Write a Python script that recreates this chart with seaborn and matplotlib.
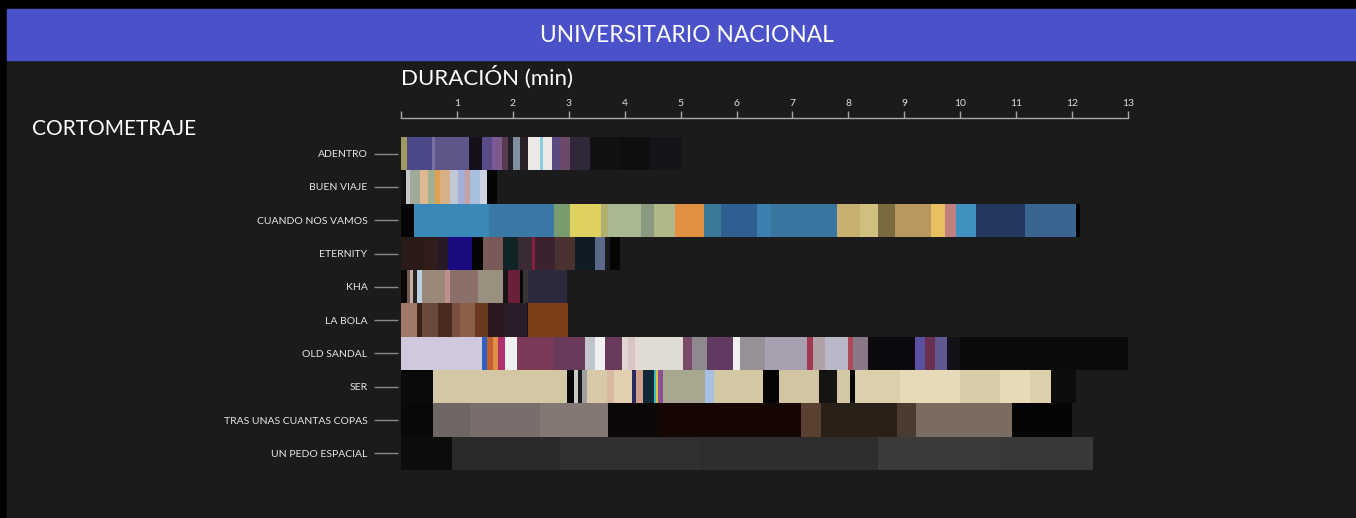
import pandas as pd
import matplotlib.pyplot as plt
import seaborn as sns
from matplotlib.patches import Rectangle

# Films (top to bottom) and their colour barcodes:
# each segment ends at the given minute and has the given colour
films = ['ADENTRO', 'BUEN VIAJE', 'CUANDO NOS VAMOS', 'ETERNITY', 'KHA',
         'LA BOLA', 'OLD SANDAL', 'SER', 'TRAS UNAS CUANTAS COPAS', 'UN PEDO ESPACIAL']

adentro_ends = [0.11, 0.55, 0.61, 1.22, 1.45, 1.63, 1.81, 1.91, 2.00, 2.13, 2.27,
                2.49, 2.54, 2.70, 2.84, 3.02, 3.38, 3.92, 4.45, 5.0]
adentro_colors = ['#a09a60', '#4a4a8a', '#7a70a0', '#5c5788', '#15101c', '#5a4a8a',
                  '#7a5a90', '#5a3a50', '#202028', '#8090a0', '#2a2028', '#ece8e6',
                  '#8ccfe0', '#ece8e6', '#5a4a80', '#6a4a68', '#302838', '#111113',
                  '#0e0e10', '#151519']

buen_viaje_ends = [0.09, 0.16, 0.34, 0.48, 0.61, 0.70, 0.88, 1.02, 1.14, 1.23, 1.41, 1.54, 1.72]
buen_viaje_colors = ['#101010', '#c8c8c8', '#a0aa98', '#e0b890', '#a0b090', '#e0a050',
                     '#d8b088', '#c0c8d8', '#a0b0d8', '#c8a0a0', '#a8c0e0', '#d0d4e0', '#050505']

cuando_ends = [0.23, 1.57, 2.74, 3.02, 3.58, 3.70, 4.29, 4.52, 4.90, 5.42, 5.72, 6.37,
               6.62, 7.80, 8.21, 8.53, 8.83, 9.48, 9.73, 9.92, 10.28, 11.16, 12.07, 12.14]
cuando_colors = ['#050505', '#3a88b8', '#3a78a5', '#7a9a70', '#e0d060', '#b0b070',
                 '#a8b890', '#8a9a80', '#b0b888', '#e09040', '#3a7a98', '#2f5f90',
                 '#3a80b0', '#3a75a0', '#c8b070', '#d0c080', '#7a6a40', '#b89860',
                 '#e8c060', '#c08080', '#4090c0', '#24385f', '#3a6590', '#000000']

eternity_ends = [0.43, 0.66, 0.84, 1.27, 1.47, 1.82, 2.09, 2.34, 2.40, 2.75, 3.11,
                 3.47, 3.65, 3.74, 3.92]
eternity_colors = ['#2a1a18', '#301c18', '#281828', '#1a0a80', '#050505', '#7a5a58',
                   '#102428', '#3a2a34', '#8a2040', '#3a2230', '#4a3230', '#101c24',
                   '#5a6a88', '#1a1a22', '#050505']

kha_ends = [0.11, 0.16, 0.21, 0.29, 0.38, 0.79, 0.88, 1.38, 1.82, 1.91, 2.13, 2.18, 2.27, 2.97]
kha_colors = ['#080808', '#7a5a50', '#c0b0a8', '#2a2020', '#b8d0e0', '#9a8878',
              '#c09090', '#8a7068', '#9a9080', '#1a1414', '#6a2038', '#080808',
              '#3a3438', '#2c2a3c']

la_bola_ends = [0.29, 0.38, 0.66, 0.91, 1.06, 1.32, 1.56, 1.86, 2.25, 2.27, 2.99]
la_bola_colors = ['#a07868', '#3a2218', '#6a4a3a', '#4a2a1e', '#7a5040', '#8a6048',
                  '#6a3a20', '#2a1a20', '#2a1c28', '#101010', '#7a3e18']

old_sandal_ends = [1.45, 1.54, 1.65, 1.73, 1.86, 2.07, 2.72, 3.29, 3.47, 3.65, 3.95,
                   4.06, 4.18, 5.04, 5.20, 5.47, 5.94, 6.06, 6.51, 7.26, 7.37, 7.58,
                   7.99, 8.08, 8.35, 9.19, 9.37, 9.55, 9.76, 10.00, 13.03]
old_sandal_colors = ['#d0c8dc', '#3060c0', '#c06030', '#e09040', '#b03070', '#f0f0f0',
                     '#7a3a58', '#6a3a5a', '#c0c4cc', '#f0f0f0', '#6a3a5c', '#e0d8d0',
                     '#d8c4c0', '#e0dcd4', '#7a4a6a', '#908890', '#603a60', '#f0f0f0',
                     '#989098', '#a8a0b0', '#a03850', '#b0a0a8', '#b8b8c8', '#b04858',
                     '#8a7888', '#0c0a0e', '#5a50a0', '#6a3050', '#605890', '#141018',
                     '#0a0a0c']

ser_ends = [0.57, 2.97, 3.09, 3.17, 3.24, 3.33, 3.68, 3.81, 4.13, 4.20, 4.33, 4.52,
            4.56, 4.60, 4.69, 5.44, 5.60, 6.47, 6.76, 7.47, 7.80, 8.03, 8.12, 8.92,
            10.00, 10.71, 11.25, 11.62, 12.07]
ser_colors = ['#0a0a0a', '#d4c8a4', '#050505', '#c8c8c8', '#1a1a1a', '#a0a0a0',
              '#d8caa8', '#d8b8a0', '#e0d0b0', '#2a2a60', '#d0a088', '#102838',
              '#30c0c0', '#e0c040', '#8a5090', '#a8a890', '#a8c0e0', '#d4c8a4',
              '#050505', '#d2c6a2', '#141410', '#d4c8a4', '#050505', '#dcd0ac',
              '#e6dab8', '#d8ccaa', '#e6dab8', '#dcd0ac', '#0c0c0c']

tras_ends = [0.57, 1.23, 2.49, 3.70, 4.60, 7.15, 7.51, 8.87, 9.21, 10.93, 12.00]
tras_colors = ['#080808', '#6e6664', '#7a6e6c', '#847874', '#0c0808', '#160604',
               '#5a4030', '#2a2018', '#4a3c30', '#7a6c60', '#050505']

pedo_ends = [0.91, 2.84, 5.35, 8.53, 10.71, 12.37]
pedo_colors = ['#0c0c0c', '#2a2a2a', '#303030', '#2e2e2e', '#3a3a3a', '#383838']

minute_ticks = list(range(0, 14))
minute_labels = [''] + [str(m) for m in range(1, 14)]

barcodes = [(adentro_ends, adentro_colors), (buen_viaje_ends, buen_viaje_colors),
            (cuando_ends, cuando_colors), (eternity_ends, eternity_colors),
            (kha_ends, kha_colors), (la_bola_ends, la_bola_colors),
            (old_sandal_ends, old_sandal_colors), (ser_ends, ser_colors),
            (tras_ends, tras_colors), (pedo_ends, pedo_colors)]

# long table of segments
rows = []
for film, (ends, colors) in zip(films, barcodes):
    start = 0.0
    for end, color in zip(ends, colors):
        rows.append({'film': film, 'start': start, 'width': end - start, 'color': color})
        start = end
seg = pd.DataFrame(rows)

bg = '#1b1b1b'
grey = '#a8a8a8'
sns.set_theme(style='dark', rc={'figure.facecolor': '#000000', 'axes.facecolor': bg,
                                'text.color': 'white'})
plt.rcParams['font.family'] = ['Lato', 'DejaVu Sans']

fig = plt.figure(figsize=(13.56, 5.18), dpi=100)
# dark panel + header band (behind the axes)
fig.patches.append(Rectangle((7 / 1356, 0), 1 - 7 / 1356, 1 - 9 / 518,
                             transform=fig.transFigure, color=bg, zorder=-3))
fig.patches.append(Rectangle((7 / 1356, 1 - 60 / 518), 1 - 7 / 1356, 51 / 518,
                             transform=fig.transFigure, color='#4b52c9', zorder=-2))
fig.text(687 / 1356, 1 - 35 / 518, 'UNIVERSITARIO NACIONAL', ha='center', va='center',
         fontsize=16.4, color='white')
fig.text(32 / 1356, 1 - 129 / 518, 'CORTOMETRAJE', ha='left', va='center',
         fontsize=15, color='white')
fig.text(401 / 1356, 1 - 77 / 518, 'DURACIÓN (min)', ha='left', va='center',
         fontsize=16, color='white')

ax = fig.add_axes([401 / 1356, 1 - 470 / 518, 727 / 1356, 333 / 518])
ax.set_facecolor(bg)
ypos = {f: i for i, f in enumerate(films)}
ax.barh(seg['film'].map(ypos), seg['width'], left=seg['start'], height=1.0,
        color=seg['color'], linewidth=0)

ax.set_xlim(0, 13)
ax.set_ylim(len(films) - 0.5, -0.5)
ax.grid(False)

# duration axis drawn above the bars (offsets in points: 1 pt = 1.39 px)
ax.xaxis.tick_top()
ax.set_xticks(minute_ticks)
ax.set_xticklabels(minute_labels)
ax.spines['top'].set_position(('outward', 13.7))
ax.spines['top'].set_color(grey)
ax.spines['top'].set_linewidth(1)
for s in ['left', 'right', 'bottom']:
    ax.spines[s].set_visible(False)
ax.tick_params(axis='x', top=True, bottom=False, direction='out', length=5, width=1,
               color=grey, labelcolor='#dddddd', labelsize=7.5, pad=2.5)

ax.spines['left'].set_position(('outward', 2.2))
ax.set_yticks(range(len(films)))
ax.set_yticklabels(films)
ax.tick_params(axis='y', left=True, direction='out', length=17, width=1, color='#8a8a8a',
               labelcolor='#e6e6e6', labelsize=7.5, pad=5)

fig.savefig('out.png', dpi=100, facecolor='#000000')
